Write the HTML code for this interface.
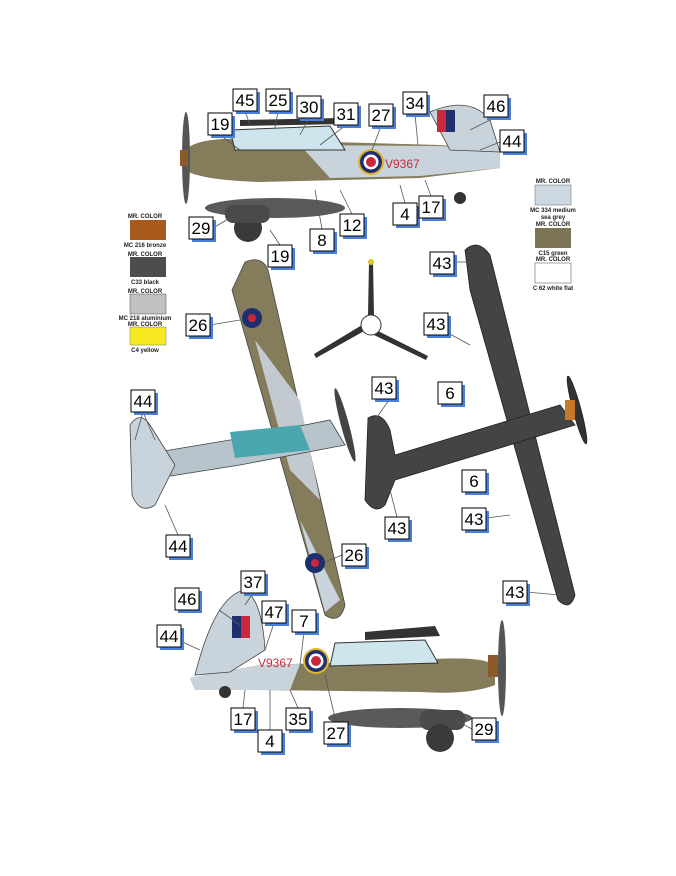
<!DOCTYPE html>
<html><head><style>
html,body{margin:0;padding:0;background:#fff;}
svg{display:block;}
.lb rect.s{fill:#4a7fd8;}
.lb rect.b{fill:#fff;stroke:#000;stroke-width:1;}
.lb text{font-family:"Liberation Sans",sans-serif;font-size:17px;fill:#000;text-anchor:middle;}
.sw text{font-family:"Liberation Sans",sans-serif;font-size:6px;font-weight:bold;fill:#222;text-anchor:middle;}
</style></head><body>
<svg width="676" height="876" viewBox="0 0 676 876" xmlns="http://www.w3.org/2000/svg">
<defs>
<g id="rnd"><circle r="13" fill="#e2b22a"/><circle r="11" fill="#1e2f6e"/><circle r="7.5" fill="#fff"/><circle r="5" fill="#c8283a"/></g>
<g id="rs"><circle r="10" fill="#1e2f6e"/><circle r="4" fill="#c8283a"/></g>
</defs>

<!-- TOP SIDE VIEW -->
<g>
<path d="M185,150 Q200,135 260,140 L440,145 L500,150 L500,168 L420,178 L260,182 Q200,180 185,170 Z" fill="#857c5c"/>
<path d="M300,145 L440,146 L500,150 L500,168 L420,176 L330,178 Z" fill="#c9d3dc"/>
<path d="M430,112 Q470,95 490,120 L500,152 L450,150 Z" fill="#c9d3dc" stroke="#444" stroke-width="0.8"/>
<rect x="437" y="110" width="9" height="22" fill="#c8283a"/><rect x="446" y="110" width="9" height="22" fill="#1e2f6e"/>
<path d="M230,130 L330,126 L345,150 L235,150 Z" fill="#cfe5ee" stroke="#333" stroke-width="1"/>
<path d="M240,120 L340,118 L345,124 L240,126 Z" fill="#333"/>
<ellipse cx="186" cy="158" rx="4" ry="46" fill="#555"/>
<rect x="180" y="150" width="8" height="16" fill="#8a5a2b"/>
<ellipse cx="275" cy="208" rx="70" ry="10" fill="#5a5a5a"/>
<circle cx="248" cy="228" r="14" fill="#3a3a3a"/>
<rect x="225" y="205" width="45" height="18" rx="8" fill="#4a4a4a"/>
<circle cx="460" cy="198" r="6" fill="#333"/>
<use href="#rnd" x="371" y="162"/>
<text x="385" y="168" font-family="Liberation Sans" font-size="12" fill="#c8283a">V9367</text>
</g>

<!-- PROPELLER -->
<g fill="#333">
<path d="M369,262 L373,262 L374,315 L368,315 Z"/>
<path d="M366,330 L316,358 L314,354 L362,325 Z"/>
<path d="M376,330 L428,356 L426,360 L374,335 Z"/>
<circle cx="371" cy="325" r="10" fill="#fff" stroke="#333"/>
<circle cx="371" cy="262" r="3" fill="#e2c12a"/>
</g>

<!-- MID TOP VIEW (camo) -->
<g>
<path d="M245,262 Q262,255 268,270 L345,605 Q340,625 325,615 L232,290 Z" fill="#857c5c" stroke="#444" stroke-width="0.8"/>
<path d="M255,340 L300,400 L320,500 L290,470 Z" fill="#c9d3dc" opacity="0.9"/>
<path d="M300,520 L340,600 L325,612 Z" fill="#c9d3dc"/>
<path d="M140,455 L230,440 L330,420 L345,445 L240,465 L145,480 Z" fill="#b8c4cc" stroke="#444" stroke-width="0.8"/>
<path d="M230,432 L300,425 L310,450 L235,458 Z" fill="#4aa7b0"/>
<path d="M130,425 Q140,410 150,425 L175,465 L155,505 Q140,515 132,495 Z" fill="#c9d3dc" stroke="#444" stroke-width="0.8"/>
<ellipse cx="345" cy="425" rx="4" ry="38" fill="#444" transform="rotate(-15 345 425)"/>
<use href="#rs" x="252" y="318"/><use href="#rs" x="315" y="563"/>
</g>

<!-- DARK TOP VIEW -->
<g fill="#444" stroke="#222" stroke-width="0.8">
<path d="M465,250 Q478,238 490,255 L575,595 Q570,612 558,600 L470,290 Z"/>
<path d="M368,418 Q382,410 390,430 L395,455 L560,405 L575,425 L395,480 L385,505 Q375,515 365,500 Z"/>
<ellipse cx="577" cy="410" rx="4" ry="35" fill="#333" transform="rotate(-15 577 410)"/>
<rect x="565" y="400" width="10" height="20" fill="#c8782a" stroke="none"/>
</g>

<!-- BOTTOM SIDE VIEW -->
<g>
<path d="M190,678 L260,665 L420,660 Q480,655 495,665 L495,685 Q470,695 420,692 L260,690 L195,690 Z" fill="#857c5c"/>
<path d="M190,678 L260,665 L300,664 L290,690 L195,690 Z" fill="#c9d3dc"/>
<path d="M195,675 Q215,595 245,590 Q262,600 265,650 L230,672 Z" fill="#c9d3dc" stroke="#444" stroke-width="0.8"/>
<rect x="232" y="616" width="9" height="22" fill="#1e2f6e"/><rect x="241" y="616" width="9" height="22" fill="#c8283a"/>
<path d="M335,643 L425,640 L438,663 L330,666 Z" fill="#cfe5ee" stroke="#333"/>
<path d="M365,632 L435,626 L440,636 L365,640 Z" fill="#333"/>
<rect x="488" y="655" width="10" height="22" fill="#8a5a2b"/>
<ellipse cx="502" cy="668" rx="4" ry="48" fill="#555"/>
<ellipse cx="400" cy="718" rx="72" ry="10" fill="#5a5a5a"/>
<rect x="420" y="710" width="45" height="20" rx="8" fill="#4a4a4a"/>
<circle cx="440" cy="738" r="14" fill="#3a3a3a"/>
<circle cx="225" cy="692" r="6" fill="#333"/>
<use href="#rnd" x="316" y="661"/>
<text x="258" y="667" font-family="Liberation Sans" font-size="12" fill="#c8283a">V9367</text>
</g>

<!-- SWATCHES LEFT -->
<g class="sw">
<text x="145" y="218">MR. COLOR</text><rect x="130" y="220" width="36" height="20" fill="#a85a1c"/><text x="145" y="247">MC 216 bronze</text>
<text x="145" y="256">MR. COLOR</text><rect x="130" y="257" width="36" height="20" fill="#4d4d4d"/><text x="145" y="284">C33 black</text>
<text x="145" y="293">MR. COLOR</text><rect x="130" y="294" width="36" height="20" fill="#c0c0c0" stroke="#555" stroke-width="0.5"/><text x="145" y="320">MC 218 aluminium</text>
<text x="145" y="326">MR. COLOR</text><rect x="130" y="327" width="36" height="18" fill="#f7e81f" stroke="#777" stroke-width="0.5"/><text x="145" y="352">C4 yellow</text>
</g>
<g class="sw">
<text x="553" y="183">MR. COLOR</text><rect x="535" y="185" width="36" height="20" fill="#ced8e2" stroke="#666" stroke-width="0.5"/><text x="553" y="212">MC 334 medium</text><text x="553" y="219">sea grey</text>
<text x="553" y="226">MR. COLOR</text><rect x="535" y="228" width="36" height="20" fill="#7b7556"/><text x="553" y="255">C15 green</text>
<text x="553" y="261">MR. COLOR</text><rect x="535" y="263" width="36" height="20" fill="#fff" stroke="#666" stroke-width="0.6"/><text x="553" y="290">C 62 white flat</text>
</g>

<!-- leader lines -->
<g stroke="#555" stroke-width="0.8" fill="none">
<path d="M220,135 L240,150"/><path d="M245,111 L250,125"/><path d="M278,111 L275,128"/><path d="M309,118 L300,135"/><path d="M346,125 L320,145"/><path d="M381,126 L372,150"/><path d="M415,114 L418,145"/><path d="M496,117 L470,130"/><path d="M500,142 L480,150"/>
<path d="M213,228 L235,215"/><path d="M280,245 L270,230"/><path d="M322,229 L315,190"/><path d="M352,214 L340,190"/><path d="M405,203 L400,185"/><path d="M431,196 L425,180"/>
<path d="M454,262 L470,262"/><path d="M448,333 L470,345"/><path d="M210,325 L240,320"/><path d="M396,390 L375,420"/><path d="M143,412 L135,440 M143,412 L155,440"/><path d="M178,535 L165,505"/><path d="M342,555 L325,562"/><path d="M486,518 L510,515"/><path d="M397,517 L390,490"/><path d="M526,592 L560,595"/>
<path d="M219,610 L240,625"/><path d="M253,593 L245,605"/><path d="M274,623 L265,650"/><path d="M304,632 L300,665"/><path d="M169,636 L200,650"/><path d="M243,708 L245,690"/><path d="M298,708 L290,690"/><path d="M270,730 L270,690"/><path d="M336,722 L325,675"/><path d="M472,729 L455,720"/>
</g>

<!-- LABELS -->
<g class="lb">
<g transform="translate(208,113)"><rect class="s" x="3" y="3" width="24" height="22"/><rect class="b" width="24" height="22"/><text x="12" y="17">19</text></g>
<g transform="translate(233,89)"><rect class="s" x="3" y="3" width="24" height="22"/><rect class="b" width="24" height="22"/><text x="12" y="17">45</text></g>
<g transform="translate(266,89)"><rect class="s" x="3" y="3" width="24" height="22"/><rect class="b" width="24" height="22"/><text x="12" y="17">25</text></g>
<g transform="translate(297,96)"><rect class="s" x="3" y="3" width="24" height="22"/><rect class="b" width="24" height="22"/><text x="12" y="17">30</text></g>
<g transform="translate(334,103)"><rect class="s" x="3" y="3" width="24" height="22"/><rect class="b" width="24" height="22"/><text x="12" y="17">31</text></g>
<g transform="translate(369,104)"><rect class="s" x="3" y="3" width="24" height="22"/><rect class="b" width="24" height="22"/><text x="12" y="17">27</text></g>
<g transform="translate(403,92)"><rect class="s" x="3" y="3" width="24" height="22"/><rect class="b" width="24" height="22"/><text x="12" y="17">34</text></g>
<g transform="translate(484,95)"><rect class="s" x="3" y="3" width="24" height="22"/><rect class="b" width="24" height="22"/><text x="12" y="17">46</text></g>
<g transform="translate(500,130)"><rect class="s" x="3" y="3" width="24" height="22"/><rect class="b" width="24" height="22"/><text x="12" y="17">44</text></g>
<g transform="translate(189,217)"><rect class="s" x="3" y="3" width="24" height="22"/><rect class="b" width="24" height="22"/><text x="12" y="17">29</text></g>
<g transform="translate(268,245)"><rect class="s" x="3" y="3" width="24" height="22"/><rect class="b" width="24" height="22"/><text x="12" y="17">19</text></g>
<g transform="translate(310,229)"><rect class="s" x="3" y="3" width="24" height="22"/><rect class="b" width="24" height="22"/><text x="12" y="17">8</text></g>
<g transform="translate(340,214)"><rect class="s" x="3" y="3" width="24" height="22"/><rect class="b" width="24" height="22"/><text x="12" y="17">12</text></g>
<g transform="translate(393,203)"><rect class="s" x="3" y="3" width="24" height="22"/><rect class="b" width="24" height="22"/><text x="12" y="17">4</text></g>
<g transform="translate(419,196)"><rect class="s" x="3" y="3" width="24" height="22"/><rect class="b" width="24" height="22"/><text x="12" y="17">17</text></g>
<g transform="translate(430,252)"><rect class="s" x="3" y="3" width="24" height="22"/><rect class="b" width="24" height="22"/><text x="12" y="17">43</text></g>
<g transform="translate(186,314)"><rect class="s" x="3" y="3" width="24" height="22"/><rect class="b" width="24" height="22"/><text x="12" y="17">26</text></g>
<g transform="translate(424,313)"><rect class="s" x="3" y="3" width="24" height="22"/><rect class="b" width="24" height="22"/><text x="12" y="17">43</text></g>
<g transform="translate(438,382)"><rect class="s" x="3" y="3" width="24" height="22"/><rect class="b" width="24" height="22"/><text x="12" y="17">6</text></g>
<g transform="translate(372,377)"><rect class="s" x="3" y="3" width="24" height="22"/><rect class="b" width="24" height="22"/><text x="12" y="17">43</text></g>
<g transform="translate(131,390)"><rect class="s" x="3" y="3" width="24" height="22"/><rect class="b" width="24" height="22"/><text x="12" y="17">44</text></g>
<g transform="translate(462,470)"><rect class="s" x="3" y="3" width="24" height="22"/><rect class="b" width="24" height="22"/><text x="12" y="17">6</text></g>
<g transform="translate(462,508)"><rect class="s" x="3" y="3" width="24" height="22"/><rect class="b" width="24" height="22"/><text x="12" y="17">43</text></g>
<g transform="translate(385,517)"><rect class="s" x="3" y="3" width="24" height="22"/><rect class="b" width="24" height="22"/><text x="12" y="17">43</text></g>
<g transform="translate(166,535)"><rect class="s" x="3" y="3" width="24" height="22"/><rect class="b" width="24" height="22"/><text x="12" y="17">44</text></g>
<g transform="translate(342,544)"><rect class="s" x="3" y="3" width="24" height="22"/><rect class="b" width="24" height="22"/><text x="12" y="17">26</text></g>
<g transform="translate(503,581)"><rect class="s" x="3" y="3" width="24" height="22"/><rect class="b" width="24" height="22"/><text x="12" y="17">43</text></g>
<g transform="translate(241,571)"><rect class="s" x="3" y="3" width="24" height="22"/><rect class="b" width="24" height="22"/><text x="12" y="17">37</text></g>
<g transform="translate(175,588)"><rect class="s" x="3" y="3" width="24" height="22"/><rect class="b" width="24" height="22"/><text x="12" y="17">46</text></g>
<g transform="translate(262,601)"><rect class="s" x="3" y="3" width="24" height="22"/><rect class="b" width="24" height="22"/><text x="12" y="17">47</text></g>
<g transform="translate(292,610)"><rect class="s" x="3" y="3" width="24" height="22"/><rect class="b" width="24" height="22"/><text x="12" y="17">7</text></g>
<g transform="translate(157,625)"><rect class="s" x="3" y="3" width="24" height="22"/><rect class="b" width="24" height="22"/><text x="12" y="17">44</text></g>
<g transform="translate(231,708)"><rect class="s" x="3" y="3" width="24" height="22"/><rect class="b" width="24" height="22"/><text x="12" y="17">17</text></g>
<g transform="translate(286,708)"><rect class="s" x="3" y="3" width="24" height="22"/><rect class="b" width="24" height="22"/><text x="12" y="17">35</text></g>
<g transform="translate(258,730)"><rect class="s" x="3" y="3" width="24" height="22"/><rect class="b" width="24" height="22"/><text x="12" y="17">4</text></g>
<g transform="translate(324,722)"><rect class="s" x="3" y="3" width="24" height="22"/><rect class="b" width="24" height="22"/><text x="12" y="17">27</text></g>
<g transform="translate(472,718)"><rect class="s" x="3" y="3" width="24" height="22"/><rect class="b" width="24" height="22"/><text x="12" y="17">29</text></g>
</g>
</svg>
</body></html>
